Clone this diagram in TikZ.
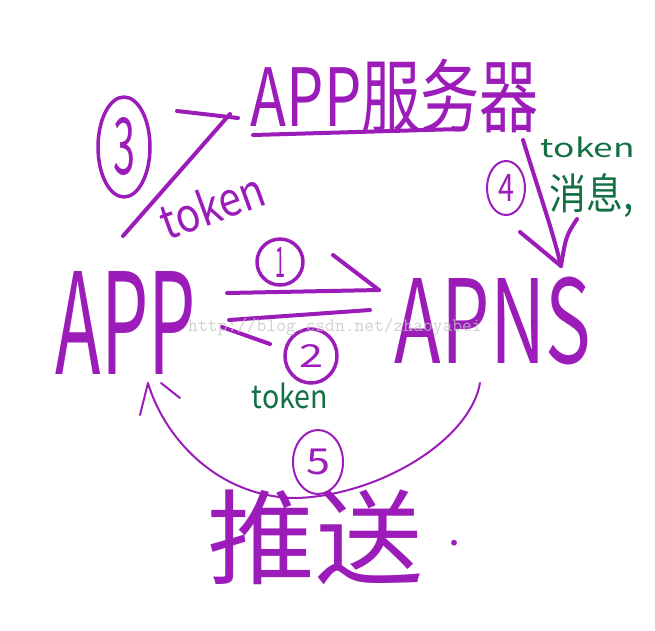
\documentclass[tikz,border=0pt]{standalone}
\usepackage{graphicx}
\usepackage{fontspec}
\setmainfont{Noto Sans CJK SC}
\usepackage{tikz}
\usetikzlibrary{
  arrows.meta,
  positioning,
  shapes.geometric,
  calc
}
\definecolor{inkpurple}{RGB}{155,28,185}
\definecolor{inkgreen}{RGB}{18,112,66}
\definecolor{markgray}{RGB}{196,196,196}
\newcommand{\fitword}[3]{\resizebox*{#1pt}{#2pt}{#3}}

\begin{document}
\begin{tikzpicture}[x=1pt, y=-1pt, line cap=round, line join=round,
    every node/.style={inner sep=0pt},
    pen/.style={draw=inkpurple, line width=4pt},
    thinpen/.style={draw=inkpurple, line width=2pt},
    ring/.style={ellipse, draw=inkpurple, line width=3.5pt, text=inkpurple},
    thinring/.style={ring, line width=2pt}]
            \useasboundingbox (0,0) rectangle (655,630);

            % Three parties (hand lettered, squeezed to the sketch sizes)
            \node[text=inkpurple] (server) at (395,96) {\fitword{288}{74}{APP服务器}};
            \node[text=inkpurple] (app) at (126,323) {\fitword{140}{103}{APP}};
            \node[text=inkpurple] (apns) at (493,321) {\fitword{196}{88}{APNS}};
            \draw[pen] (253,135) -- (460,129);

            % Step markers
            \node[ring, minimum width=52pt, minimum height=100pt] (c3) at (124,147) {\fitword{22}{58}{3}};
            \node[ring, minimum width=46pt, minimum height=46pt] (c1) at (280,262) {\fitword{10}{30}{1}};
            \node[ring, minimum width=52pt, minimum height=54pt] (c2) at (311,356) {\fitword{24}{23}{2}};
            \node[thinring, minimum width=38pt, minimum height=54pt] (c4) at (506,188) {\fitword{16}{27}{4}};
            \node[thinring, minimum width=50pt, minimum height=64pt] (c5) at (318,462) {\fitword{24}{26}{5}};

            % Labels on the connectors
            \node[text=inkpurple, rotate=20] (tok3) at (212,205) {\fitword{108}{38}{token}};
            \node[text=inkgreen] (tok2) at (290,396) {\fitword{76}{26}{token}};
            \node[text=inkgreen] (tok4) at (588,147) {\fitword{94}{21}{token}};
            \node[text=inkgreen] (msg4) at (592,196) {\fitword{84}{44}{消息,}};
            \node[text=inkpurple] (push) at (334,537) {\fitword{252}{95}{推送~\raisebox{0.3em}{\scalebox{0.4}{.}}}};

            % End points of the strokes
            \coordinate (s1) at (227,293);
            \coordinate (e1) at (379,290);
            \coordinate (s2) at (370,310);
            \coordinate (e2) at (229,320);
            \coordinate (s3) at (123,236);
            \coordinate (e3) at (230,114);
            \coordinate (s4) at (523,140);
            \coordinate (e4) at (561,266);
            \coordinate (s5) at (480,383);
            \coordinate (m5) at (297,498);
            \coordinate (e5) at (148,383);

            % 1: APP -> APNS
            \draw[pen] (s1) -- (e1);
            \draw[pen] (333,255) -- (e1);
            % 2: APNS -> APP
            \draw[pen] (s2) -- (e2);
            \draw[pen] (222,327) -- (270,344);
            % 3: APP -> server
            \draw[pen] (s3) -- (e3);
            \draw[pen] (177,111) -- (238,118);
            % 4: server -> APNS
            \draw[pen] (s4) .. controls (540,195) and (553,232) .. (e4);
            \draw[pen] (520,232) -- (e4);
            \draw[pen] (577,219) .. controls (566,236) .. (e4);
            % 5: APNS pushes to APP
            \draw[thinpen] (s5) .. controls (470,440) and (380,495) .. (m5)
                               .. controls (220,498) and (165,440) .. (e5);
            \draw[thinpen] (140,415) -- (e5);
            \draw[thinpen] (161,383) -- (180,398);

            % blog watermark
            \node[text=markgray, text opacity=0.8, font=\ttfamily\fontsize{19}{19}\selectfont] (mark) at (335,327) {http://blog.csdn.net/zhaoyabei};
        \end{tikzpicture}
\end{document}
